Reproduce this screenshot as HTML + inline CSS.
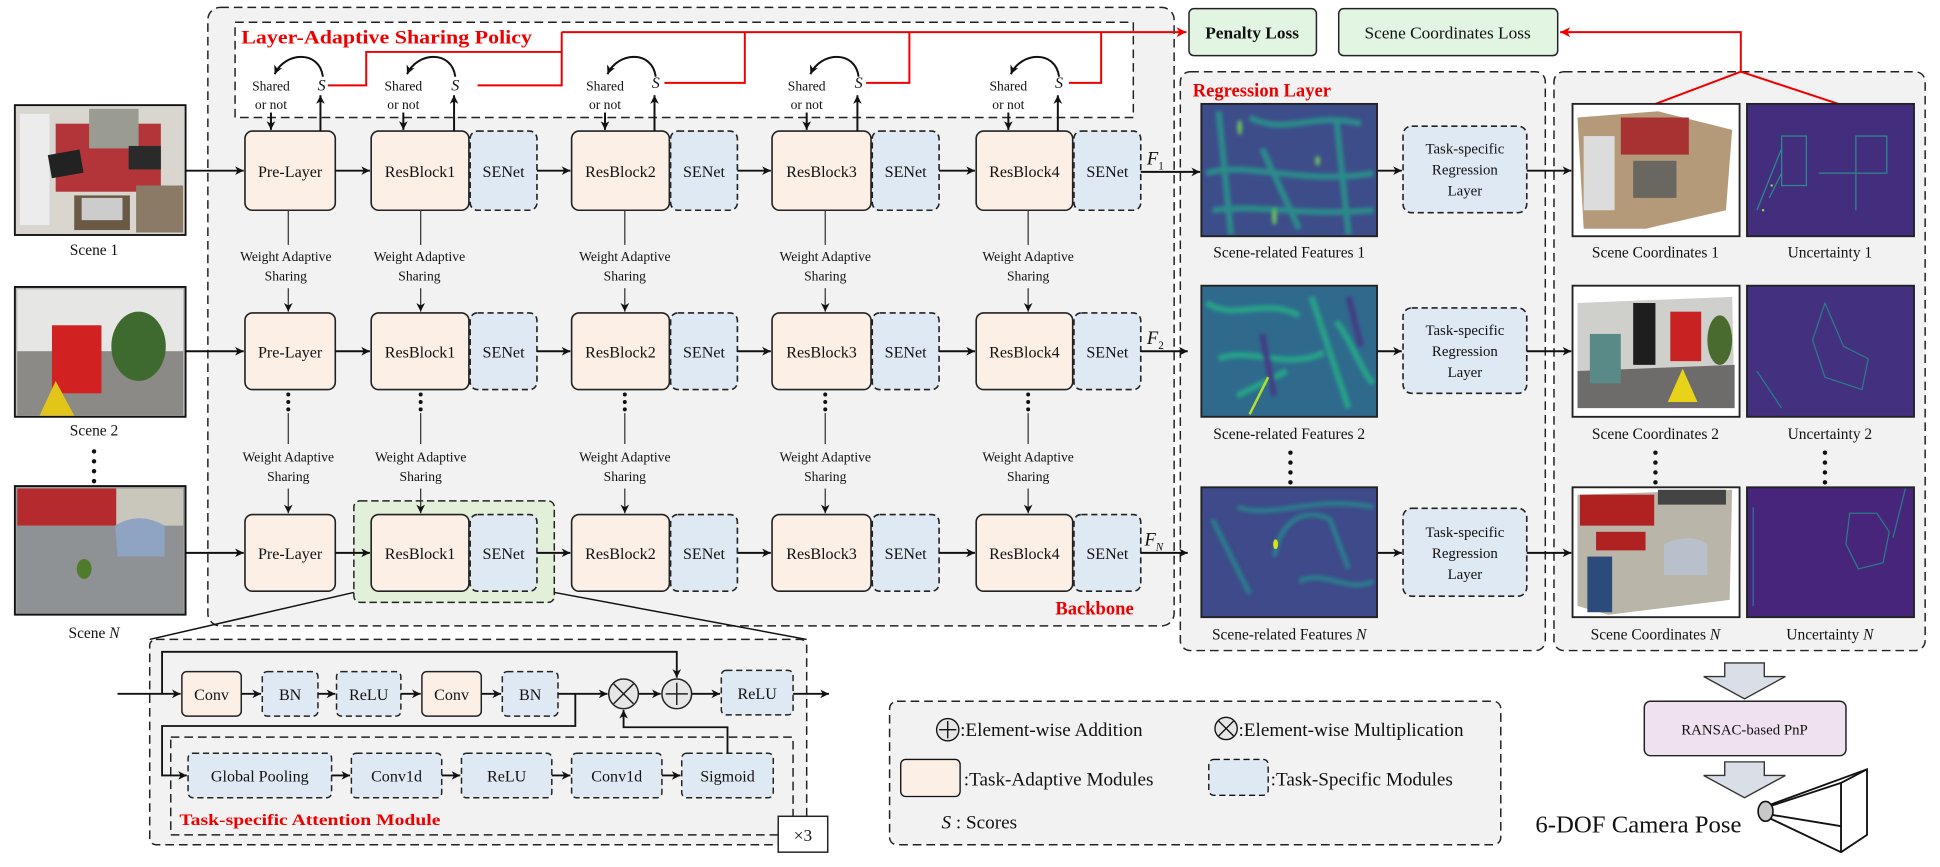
<!DOCTYPE html>
<html><head><meta charset="utf-8"><style>
html,body{margin:0;padding:0;background:#fff;}
svg{display:block;}
text{font-family:"Liberation Serif",serif;fill:#111;}
</style></head><body>
<svg width="1940" height="867" viewBox="0 0 1568 701" preserveAspectRatio="none" xmlns="http://www.w3.org/2000/svg">
<defs>
<marker id="ah" markerWidth="8" markerHeight="8" refX="7" refY="4" orient="auto" markerUnits="userSpaceOnUse"><path d="M0,0.5 L7,4 L0,7.5 L2,4 Z" fill="#111"/></marker>
<marker id="ahr" markerWidth="9" markerHeight="9" refX="8" refY="4.5" orient="auto" markerUnits="userSpaceOnUse"><path d="M0,0.5 L8,4.5 L0,8.5 L2,4.5 Z" fill="#e00"/></marker>
<filter id="bl"><feGaussianBlur stdDeviation="3"/></filter>
<filter id="bl2"><feGaussianBlur stdDeviation="1.5"/></filter>
<clipPath id="cf1"><rect x="971" y="84" width="142" height="107"/></clipPath>
<clipPath id="cf2"><rect x="971" y="231" width="142" height="106"/></clipPath>
<clipPath id="cf3"><rect x="971" y="394" width="142" height="105"/></clipPath>
</defs>

<rect x="168" y="6" width="781" height="500" rx="10" fill="#f2f2f2" stroke="#222" stroke-width="1.2" stroke-dasharray="7,4"/>
<rect x="190" y="18" width="726" height="77" fill="#fff" stroke="#222" stroke-width="1.2" stroke-dasharray="7,4"/>
<text x="195" y="35" font-size="15" font-weight="bold" style="fill:#e00" textLength="235" lengthAdjust="spacingAndGlyphs">Layer-Adaptive Sharing Policy</text>
<text x="853" y="497" font-size="15" font-weight="bold" style="fill:#e00">Backbone</text>

<rect x="954" y="58" width="295" height="468" rx="8" fill="#f2f2f2" stroke="#222" stroke-width="1.2" stroke-dasharray="7,4"/>
<text x="964" y="78" font-size="15" font-weight="bold" style="fill:#e00">Regression Layer</text>
<rect x="1256" y="58" width="300" height="468" rx="8" fill="#f2f2f2" stroke="#222" stroke-width="1.2" stroke-dasharray="7,4"/>

<rect x="961" y="7" width="103" height="38" rx="4" fill="#e2f5e3" stroke="#222" stroke-width="1.2"/>
<text x="1012" y="31" font-size="14" font-weight="bold" text-anchor="middle">Penalty Loss</text>
<rect x="1082" y="7" width="177" height="38" rx="4" fill="#e2f5e3" stroke="#222" stroke-width="1.2"/>
<text x="1170" y="31" font-size="14" text-anchor="middle">Scene Coordinates Loss</text>

<g fill="none" stroke="#e00" stroke-width="1.6">
<polyline points="265,69 296,69 296,42 454,42"/>
<polyline points="386,69 454,69 454,26"/>
<polyline points="537,67 602,67 602,26"/>
<polyline points="700,67 735,67 735,26"/>
<polyline points="864,67 890,67 890,26"/>
<line x1="454" y1="26" x2="959" y2="26" marker-end="url(#ahr)"/>
<polyline points="1407,58 1407,26 1261,26" marker-end="url(#ahr)"/>
<polyline points="1338,84 1407,58 1489,85"/>
</g>

<g stroke="#111" stroke-width="1.5">
<rect x="12" y="85" width="138" height="105" fill="#d8d4cf"/>
<rect x="12" y="232" width="138" height="105" fill="#b9b8b6"/>
<rect x="12" y="393" width="138" height="104" fill="#9a9a98"/>
</g>
<g>
<rect x="14" y="87" width="134" height="101" fill="#d9d6d0"/>
<rect x="45" y="100" width="85" height="55" fill="#b3353a"/>
<rect x="72" y="88" width="40" height="32" fill="#9a9c92"/>
<rect x="16" y="92" width="24" height="90" fill="#ececec"/>
<rect x="40" y="123" width="26" height="19" fill="#222" transform="rotate(-10 53 132)"/>
<rect x="104" y="118" width="26" height="19" fill="#2a2a2a"/>
<rect x="60" y="158" width="45" height="28" fill="#6a5a45"/>
<rect x="66" y="160" width="33" height="18" fill="#ccc"/>
<rect x="110" y="150" width="38" height="38" fill="#8a7a66"/>
<rect x="14" y="234" width="134" height="50" fill="#e6e6e4"/>
<rect x="14" y="284" width="134" height="52" fill="#8c8a86"/>
<rect x="42" y="263" width="40" height="55" fill="#d22121"/>
<ellipse cx="112" cy="280" rx="22" ry="28" fill="#3f6a2f"/>
<polygon points="32,336 45,308 60,336" fill="#e3c51a"/>
<rect x="14" y="395" width="80" height="30" fill="#b52a2c"/>
<rect x="14" y="425" width="134" height="71" fill="#8f9294"/>
<rect x="94" y="395" width="54" height="30" fill="#c9c6bc"/>
<path d="M93,425 q20,-12 40,0 v25 h-38 z" fill="#8fa3c2"/>
<ellipse cx="68" cy="460" rx="6" ry="8" fill="#4e7c2c"/>
</g>
<g font-size="12.5" text-anchor="middle">
<text x="76" y="206">Scene 1</text>
<text x="76" y="352">Scene 2</text>
<text x="76" y="516">Scene <tspan font-style="italic">N</tspan></text>
</g>
<g fill="#111"><circle cx="76" cy="365" r="1.8"/><circle cx="76" cy="373" r="1.8"/><circle cx="76" cy="381" r="1.8"/><circle cx="76" cy="389" r="1.8"/></g>

<rect x="286" y="405" width="162" height="82" rx="5" fill="#e2efd9" stroke="#222" stroke-width="1.2" stroke-dasharray="6,3"/>

<g stroke="#222" stroke-width="1.3">
<g fill="#fcefe5">
<rect x="198" y="106" width="73" height="64" rx="6"/><rect x="300" y="106" width="79" height="64" rx="6"/><rect x="462" y="106" width="79" height="64" rx="6"/><rect x="624" y="106" width="80" height="64" rx="6"/><rect x="789" y="106" width="78" height="64" rx="6"/>
<rect x="198" y="253" width="73" height="62" rx="6"/><rect x="300" y="253" width="79" height="62" rx="6"/><rect x="462" y="253" width="79" height="62" rx="6"/><rect x="624" y="253" width="80" height="62" rx="6"/><rect x="789" y="253" width="78" height="62" rx="6"/>
<rect x="198" y="416" width="73" height="62" rx="6"/><rect x="300" y="416" width="79" height="62" rx="6"/><rect x="462" y="416" width="79" height="62" rx="6"/><rect x="624" y="416" width="80" height="62" rx="6"/><rect x="789" y="416" width="78" height="62" rx="6"/>
</g>
<g fill="#dfe9f4" stroke-dasharray="5,3">
<rect x="380" y="106" width="54" height="64" rx="6"/><rect x="542" y="106" width="54" height="64" rx="6"/><rect x="705" y="106" width="54" height="64" rx="6"/><rect x="868" y="106" width="54" height="64" rx="6"/>
<rect x="380" y="253" width="54" height="62" rx="6"/><rect x="542" y="253" width="54" height="62" rx="6"/><rect x="705" y="253" width="54" height="62" rx="6"/><rect x="868" y="253" width="54" height="62" rx="6"/>
<rect x="380" y="416" width="54" height="62" rx="6"/><rect x="542" y="416" width="54" height="62" rx="6"/><rect x="705" y="416" width="54" height="62" rx="6"/><rect x="868" y="416" width="54" height="62" rx="6"/>
<rect x="1134" y="102" width="100" height="70" rx="7"/><rect x="1134" y="249" width="100" height="69" rx="7"/><rect x="1134" y="411" width="100" height="71" rx="7"/>
</g>
</g>
<g font-size="13" text-anchor="middle">
<text x="234.5" y="143">Pre-Layer</text><text x="339.5" y="143">ResBlock1</text><text x="407" y="143">SENet</text><text x="501.5" y="143">ResBlock2</text><text x="569" y="143">SENet</text><text x="664" y="143">ResBlock3</text><text x="732" y="143">SENet</text><text x="828" y="143">ResBlock4</text><text x="895" y="143">SENet</text>
<text x="234.5" y="289">Pre-Layer</text><text x="339.5" y="289">ResBlock1</text><text x="407" y="289">SENet</text><text x="501.5" y="289">ResBlock2</text><text x="569" y="289">SENet</text><text x="664" y="289">ResBlock3</text><text x="732" y="289">SENet</text><text x="828" y="289">ResBlock4</text><text x="895" y="289">SENet</text>
<text x="234.5" y="452">Pre-Layer</text><text x="339.5" y="452">ResBlock1</text><text x="407" y="452">SENet</text><text x="501.5" y="452">ResBlock2</text><text x="569" y="452">SENet</text><text x="664" y="452">ResBlock3</text><text x="732" y="452">SENet</text><text x="828" y="452">ResBlock4</text><text x="895" y="452">SENet</text>
</g>
<g font-size="12" text-anchor="middle">
<text x="1184" y="124">Task-specific</text><text x="1184" y="141">Regression</text><text x="1184" y="158">Layer</text>
<text x="1184" y="271">Task-specific</text><text x="1184" y="288">Regression</text><text x="1184" y="305">Layer</text>
<text x="1184" y="434">Task-specific</text><text x="1184" y="451">Regression</text><text x="1184" y="468">Layer</text>
</g>

<g stroke="#111" stroke-width="1.6" fill="none" marker-end="url(#ah)">
<line x1="150" y1="138" x2="197" y2="138"/><line x1="271" y1="138" x2="299" y2="138"/><line x1="434" y1="138" x2="461" y2="138"/><line x1="596" y1="138" x2="623" y2="138"/><line x1="759" y1="138" x2="788" y2="138"/><line x1="922" y1="139" x2="970" y2="139"/>
<line x1="150" y1="284" x2="197" y2="284"/><line x1="271" y1="284" x2="299" y2="284"/><line x1="434" y1="284" x2="461" y2="284"/><line x1="596" y1="284" x2="623" y2="284"/><line x1="759" y1="284" x2="788" y2="284"/><line x1="922" y1="284" x2="960" y2="284"/>
<line x1="150" y1="447" x2="197" y2="447"/><line x1="271" y1="447" x2="299" y2="447"/><line x1="434" y1="447" x2="461" y2="447"/><line x1="596" y1="447" x2="623" y2="447"/><line x1="759" y1="447" x2="788" y2="447"/><line x1="922" y1="447" x2="960" y2="447"/>
<line x1="1113" y1="138" x2="1133" y2="138"/><line x1="1234" y1="138" x2="1270" y2="138"/>
<line x1="1113" y1="284" x2="1133" y2="284"/><line x1="1234" y1="284" x2="1270" y2="284"/>
<line x1="1113" y1="447" x2="1133" y2="447"/><line x1="1234" y1="447" x2="1270" y2="447"/>
<line x1="219" y1="91" x2="219" y2="105"/><line x1="259" y1="106" x2="259" y2="77"/>
<line x1="326" y1="91" x2="326" y2="105"/><line x1="367" y1="106" x2="367" y2="77"/>
<line x1="489" y1="91" x2="489" y2="105"/><line x1="529" y1="106" x2="529" y2="77"/>
<line x1="652" y1="91" x2="652" y2="105"/><line x1="693" y1="106" x2="693" y2="77"/>
<line x1="815" y1="91" x2="815" y2="105"/><line x1="855" y1="106" x2="855" y2="77"/>
<path d="M261,62 C258,40 230,42 222,60"/><path d="M368,62 C365,40 337,42 329,60"/><path d="M530,62 C527,40 499,42 491,60"/><path d="M694,62 C691,40 663,42 655,60"/><path d="M856,62 C853,40 825,42 817,60"/>
</g>
<g font-size="11" text-anchor="middle">
<text x="219" y="73">Shared</text><text x="219" y="88">or not</text>
<text x="326" y="73">Shared</text><text x="326" y="88">or not</text>
<text x="489" y="73">Shared</text><text x="489" y="88">or not</text>
<text x="652" y="73">Shared</text><text x="652" y="88">or not</text>
<text x="815" y="73">Shared</text><text x="815" y="88">or not</text>
</g>
<g font-size="13" font-style="italic" text-anchor="middle">
<text x="260" y="73">S</text><text x="368" y="73">S</text><text x="530" y="71">S</text><text x="694" y="71">S</text><text x="856" y="71">S</text>
</g>
<g font-size="15" font-style="italic">
<text x="927" y="133">F<tspan font-size="9" dy="4" font-style="normal">1</tspan></text>
<text x="927" y="278">F<tspan font-size="9" dy="4" font-style="normal">2</tspan></text>
<text x="925" y="441">F<tspan font-size="9" dy="4">N</tspan></text>
</g>

<g stroke="#333" stroke-width="1" fill="none">
<line x1="233" y1="170" x2="233" y2="198"/><line x1="340" y1="170" x2="340" y2="198"/><line x1="505" y1="170" x2="505" y2="198"/><line x1="667" y1="170" x2="667" y2="198"/><line x1="831" y1="170" x2="831" y2="198"/>
<line x1="233" y1="334" x2="233" y2="359"/><line x1="340" y1="334" x2="340" y2="359"/><line x1="505" y1="334" x2="505" y2="359"/><line x1="667" y1="334" x2="667" y2="359"/><line x1="831" y1="334" x2="831" y2="359"/>
<g marker-end="url(#ah)">
<line x1="233" y1="233" x2="233" y2="252"/><line x1="340" y1="233" x2="340" y2="252"/><line x1="505" y1="233" x2="505" y2="252"/><line x1="667" y1="233" x2="667" y2="252"/><line x1="831" y1="233" x2="831" y2="252"/>
<line x1="233" y1="395" x2="233" y2="415"/><line x1="340" y1="395" x2="340" y2="415"/><line x1="505" y1="395" x2="505" y2="415"/><line x1="667" y1="395" x2="667" y2="415"/><line x1="831" y1="395" x2="831" y2="415"/>
</g></g>
<g font-size="11" text-anchor="middle">
<text x="231" y="211">Weight Adaptive</text><text x="231" y="227">Sharing</text>
<text x="339" y="211">Weight Adaptive</text><text x="339" y="227">Sharing</text>
<text x="505" y="211">Weight Adaptive</text><text x="505" y="227">Sharing</text>
<text x="667" y="211">Weight Adaptive</text><text x="667" y="227">Sharing</text>
<text x="831" y="211">Weight Adaptive</text><text x="831" y="227">Sharing</text>
<text x="233" y="373">Weight Adaptive</text><text x="233" y="389">Sharing</text>
<text x="340" y="373">Weight Adaptive</text><text x="340" y="389">Sharing</text>
<text x="505" y="373">Weight Adaptive</text><text x="505" y="389">Sharing</text>
<text x="667" y="373">Weight Adaptive</text><text x="667" y="389">Sharing</text>
<text x="831" y="373">Weight Adaptive</text><text x="831" y="389">Sharing</text>
</g>
<g fill="#111">
<circle cx="233" cy="319" r="1.6"/><circle cx="233" cy="325" r="1.6"/><circle cx="233" cy="331" r="1.6"/>
<circle cx="340" cy="319" r="1.6"/><circle cx="340" cy="325" r="1.6"/><circle cx="340" cy="331" r="1.6"/>
<circle cx="505" cy="319" r="1.6"/><circle cx="505" cy="325" r="1.6"/><circle cx="505" cy="331" r="1.6"/>
<circle cx="667" cy="319" r="1.6"/><circle cx="667" cy="325" r="1.6"/><circle cx="667" cy="331" r="1.6"/>
<circle cx="831" cy="319" r="1.6"/><circle cx="831" cy="325" r="1.6"/><circle cx="831" cy="331" r="1.6"/>
<circle cx="1043" cy="366" r="1.8"/><circle cx="1043" cy="374" r="1.8"/><circle cx="1043" cy="382" r="1.8"/><circle cx="1043" cy="390" r="1.8"/>
<circle cx="1338" cy="366" r="1.8"/><circle cx="1338" cy="374" r="1.8"/><circle cx="1338" cy="382" r="1.8"/><circle cx="1338" cy="390" r="1.8"/>
<circle cx="1475" cy="366" r="1.8"/><circle cx="1475" cy="374" r="1.8"/><circle cx="1475" cy="382" r="1.8"/><circle cx="1475" cy="390" r="1.8"/>
</g>

<g clip-path="url(#cf1)"><rect x="971" y="84" width="142" height="107" fill="#3d4d8a"/>
<g filter="url(#bl2)" fill="none" stroke="#2a8a8a" stroke-width="5"><path d="M985,90 L995,190 M1010,95 C1040,110 1060,90 1100,100 M975,140 C1010,130 1050,150 1110,140 M1020,120 L1050,185 M1080,95 L1090,190 M980,170 C1020,165 1050,175 1110,170"/></g>
<g filter="url(#bl2)" fill="#6cc060"><ellipse cx="1002" cy="103" rx="2" ry="6"/><ellipse cx="1030" cy="175" rx="2" ry="7"/><ellipse cx="1065" cy="130" rx="2" ry="4"/></g></g>
<g clip-path="url(#cf2)"><rect x="971" y="231" width="142" height="106" fill="#2f6a8d"/>
<g filter="url(#bl2)" fill="none" stroke="#25a187" stroke-width="5"><path d="M975,245 C1000,260 1020,240 1050,255 M985,290 C1010,280 1040,300 1070,285 M1060,240 L1090,330 M1000,320 L1040,300 M1080,260 C1095,280 1100,300 1110,310"/></g>
<g filter="url(#bl2)" fill="none" stroke="#433c84" stroke-width="5"><path d="M1020,270 L1030,320 M1090,240 L1100,280"/></g>
<path d="M1010,335 L1025,305" stroke="#b5de2b" stroke-width="2"/></g>
<g clip-path="url(#cf3)"><rect x="971" y="394" width="142" height="105" fill="#3e4a89"/>
<g filter="url(#bl2)" fill="none" stroke="#2c7d8e" stroke-width="4"><path d="M1030,450 C1035,420 1055,410 1075,420 L1090,460 M980,420 L1010,480 M1000,410 C1030,420 1060,400 1110,410 M1050,470 C1070,460 1090,480 1110,470"/></g>
<ellipse cx="1031" cy="440" rx="2" ry="4" fill="#d8e219"/></g>
<g fill="none" stroke="#222" stroke-width="1.5"><rect x="971" y="84" width="142" height="107"/><rect x="971" y="231" width="142" height="106"/><rect x="971" y="394" width="142" height="105"/></g>

<g>
<rect x="1271" y="84" width="135" height="107" fill="#fff"/>
<polygon points="1275,95 1340,90 1400,105 1395,170 1330,185 1280,185" fill="#b59a7a"/>
<rect x="1310" y="95" width="55" height="30" fill="#a83232"/>
<rect x="1280" y="110" width="25" height="60" fill="#dcdcdc"/>
<rect x="1320" y="130" width="35" height="30" fill="#6a6660"/>
<rect x="1271" y="231" width="135" height="106" fill="#fff"/>
<polygon points="1275,245 1400,240 1402,330 1275,325" fill="#cfcfcc"/>
<polygon points="1275,300 1402,295 1402,330 1275,330" fill="#6e6c6a"/>
<rect x="1285" y="270" width="25" height="40" fill="#5a8a88"/>
<rect x="1320" y="245" width="18" height="50" fill="#1e1e1e"/>
<rect x="1350" y="252" width="25" height="40" fill="#c82222"/>
<polygon points="1348,325 1360,298 1372,325" fill="#e8d21a"/>
<ellipse cx="1390" cy="275" rx="10" ry="20" fill="#4a6b30"/>
<rect x="1271" y="394" width="135" height="105" fill="#fff"/>
<polygon points="1275,400 1400,396 1398,485 1300,497 1275,490" fill="#b9b5a8"/>
<rect x="1277" y="400" width="60" height="25" fill="#b02222"/>
<rect x="1290" y="430" width="40" height="15" fill="#b02222"/>
<rect x="1283" y="450" width="20" height="45" fill="#2c4a7a"/>
<path d="M1345,440 q20,-10 35,0 v25 h-35 z" fill="#b8c0cc"/>
<rect x="1340" y="396" width="55" height="12" fill="#444"/>
</g>
<g>
<rect x="1412" y="84" width="135" height="107" fill="#432e7e"/>
<g fill="none" stroke="#2c8a8c" stroke-width="1"><rect x="1440" y="110" width="20" height="40"/><rect x="1500" y="110" width="25" height="30"/><path d="M1420,170 L1440,120 M1470,140 h30 v30 M1430,160 l10,-20"/></g>
<circle cx="1425" cy="170" r="1" fill="#8fd744"/><circle cx="1432" cy="150" r="1" fill="#8fd744"/>
<rect x="1412" y="231" width="135" height="106" fill="#43307f"/>
<g fill="none" stroke="#2a7a8c" stroke-width="1"><path d="M1475,245 l15,35 l20,10 l-5,25 l-30,-10 l-10,-30 z M1420,300 l20,30"/></g>
<rect x="1412" y="394" width="135" height="105" fill="#46257a"/>
<g fill="none" stroke="#2a7a8c" stroke-width="1"><path d="M1495,415 l22,0 l10,15 l-5,25 l-20,5 l-10,-20 z M1540,395 l-10,40 M1417,410 v80"/></g>
</g>
<g fill="none" stroke="#222" stroke-width="1.5"><rect x="1271" y="84" width="135" height="107"/><rect x="1412" y="84" width="135" height="107"/><rect x="1271" y="231" width="135" height="106"/><rect x="1412" y="231" width="135" height="106"/><rect x="1271" y="394" width="135" height="105"/><rect x="1412" y="394" width="135" height="105"/></g>

<g font-size="12.5" text-anchor="middle">
<text x="1042" y="208">Scene-related Features 1</text><text x="1042" y="355">Scene-related Features 2</text><text x="1042" y="517">Scene-related Features <tspan font-style="italic">N</tspan></text>
<text x="1338" y="208">Scene Coordinates 1</text><text x="1338" y="355">Scene Coordinates 2</text><text x="1338" y="517">Scene Coordinates <tspan font-style="italic">N</tspan></text>
<text x="1479" y="208">Uncertainty 1</text><text x="1479" y="355">Uncertainty 2</text><text x="1479" y="517">Uncertainty <tspan font-style="italic">N</tspan></text>
</g>

<g stroke="#111" stroke-width="1.2" fill="none"><line x1="286" y1="479" x2="121" y2="517"/><line x1="448" y1="479" x2="652" y2="517"/></g>
<rect x="121" y="517" width="531" height="166" rx="5" fill="#f2f2f2" stroke="#222" stroke-width="1.2" stroke-dasharray="7,4"/>
<rect x="138" y="596" width="503" height="79" fill="#f2f2f2" stroke="#222" stroke-width="1.2" stroke-dasharray="7,4"/>
<g stroke="#222" stroke-width="1.2">
<rect x="147" y="543" width="48" height="36" rx="4" fill="#fcefe5"/>
<rect x="341" y="543" width="48" height="36" rx="4" fill="#fcefe5"/>
<g fill="#dfe9f4" stroke-dasharray="5,3">
<rect x="212" y="543" width="45" height="36" rx="4"/><rect x="272" y="543" width="52" height="36" rx="4"/><rect x="406" y="543" width="45" height="36" rx="4"/><rect x="583" y="542" width="58" height="36" rx="4"/>
<rect x="152" y="609" width="116" height="36" rx="4"/><rect x="284" y="609" width="73" height="36" rx="4"/><rect x="373" y="609" width="73" height="36" rx="4"/><rect x="462" y="609" width="73" height="36" rx="4"/><rect x="551" y="609" width="74" height="36" rx="4"/>
</g>
<circle cx="504" cy="561" r="12" fill="#e6e6e6"/><circle cx="547" cy="561" r="12" fill="#e6e6e6"/>
<path d="M496,553 L512,569 M512,553 L496,569 M547,552 V570 M538,561 H556" fill="none"/>
<rect x="629" y="660" width="40" height="29" fill="#fff"/>
</g>
<g font-size="13" text-anchor="middle">
<text x="171" y="566">Conv</text><text x="234.5" y="566">BN</text><text x="298" y="566">ReLU</text><text x="365" y="566">Conv</text><text x="428.5" y="566">BN</text><text x="612" y="565">ReLU</text>
<text x="210" y="632">Global Pooling</text><text x="320.5" y="632">Conv1d</text><text x="409.5" y="632">ReLU</text><text x="498.5" y="632">Conv1d</text><text x="588" y="632">Sigmoid</text>
<text x="649" y="680" font-size="14">×3</text>
</g>
<text x="145" y="667" font-size="13" font-weight="bold" style="fill:#e00" textLength="211" lengthAdjust="spacingAndGlyphs">Task-specific Attention Module</text>
<g stroke="#111" stroke-width="1.5" fill="none">
<g marker-end="url(#ah)">
<line x1="95" y1="561" x2="146" y2="561"/><line x1="195" y1="561" x2="211" y2="561"/><line x1="257" y1="561" x2="271" y2="561"/><line x1="324" y1="561" x2="340" y2="561"/><line x1="389" y1="561" x2="405" y2="561"/>
<line x1="451" y1="561" x2="491" y2="561"/><line x1="516" y1="561" x2="534" y2="561"/><line x1="559" y1="561" x2="582" y2="561"/><line x1="641" y1="561" x2="670" y2="561"/>
<polyline points="131,561 131,527 547,527 547,548"/>
<polyline points="465,561 465,587 131,587 131,627 151,627"/>
<polyline points="588,609 588,588 504,588 504,574"/>
<line x1="268" y1="627" x2="283" y2="627"/><line x1="357" y1="627" x2="372" y2="627"/><line x1="446" y1="627" x2="461" y2="627"/><line x1="535" y1="627" x2="550" y2="627"/>
</g></g>

<rect x="719" y="567" width="494" height="116" rx="6" fill="#f2f2f2" stroke="#222" stroke-width="1.2" stroke-dasharray="7,4"/>
<g stroke="#111" stroke-width="1.1" fill="#e6e6e6">
<circle cx="766" cy="590" r="9"/><circle cx="991" cy="589" r="9"/>
<path d="M766,583 V597 M759,590 H773 M985,583 L997,595 M997,583 L985,595" fill="none"/>
<rect x="728" y="614" width="48" height="30" rx="4" fill="#fcefe5"/>
<rect x="977" y="614" width="48" height="29" rx="4" fill="#dfe9f4" stroke-dasharray="5,3"/>
</g>
<g font-size="15.5">
<text x="776" y="595">:Element-wise Addition</text>
<text x="1001" y="595">:Element-wise Multiplication</text>
<text x="779" y="635">:Task-Adaptive Modules</text>
<text x="1027" y="635">:Task-Specific Modules</text>
<text x="761" y="670"><tspan font-style="italic">S</tspan> : Scores</text>
</g>

<g stroke="#333" stroke-width="1.1" fill="#d9dee7">
<polygon points="1394,536 1426,536 1426,547 1443,547 1410,565 1377,547 1394,547"/>
<polygon points="1394,616 1426,616 1426,627 1443,627 1410,645 1377,627 1394,627"/>
</g>
<rect x="1329" y="567" width="163" height="44" rx="5" fill="#efe1f0" stroke="#222" stroke-width="1.2"/>
<text x="1410" y="594" font-size="12" text-anchor="middle">RANSAC-based PnP</text>
<text x="1241" y="673" font-size="20">6-DOF Camera Pose</text>
<g stroke="#111" stroke-width="1.5" fill="none">
<polyline points="1427,652 1509,622 1509,675 1488,689 1427,660"/>
<polyline points="1427,653 1488,633 1488,689"/>
<line x1="1427" y1="658" x2="1488" y2="668"/>
<line x1="1488" y1="633" x2="1509" y2="622"/>
</g>
<ellipse cx="1427" cy="656" rx="6" ry="8" fill="#c8c8c8" stroke="#111" stroke-width="1.3"/>
</svg>
</body></html>
